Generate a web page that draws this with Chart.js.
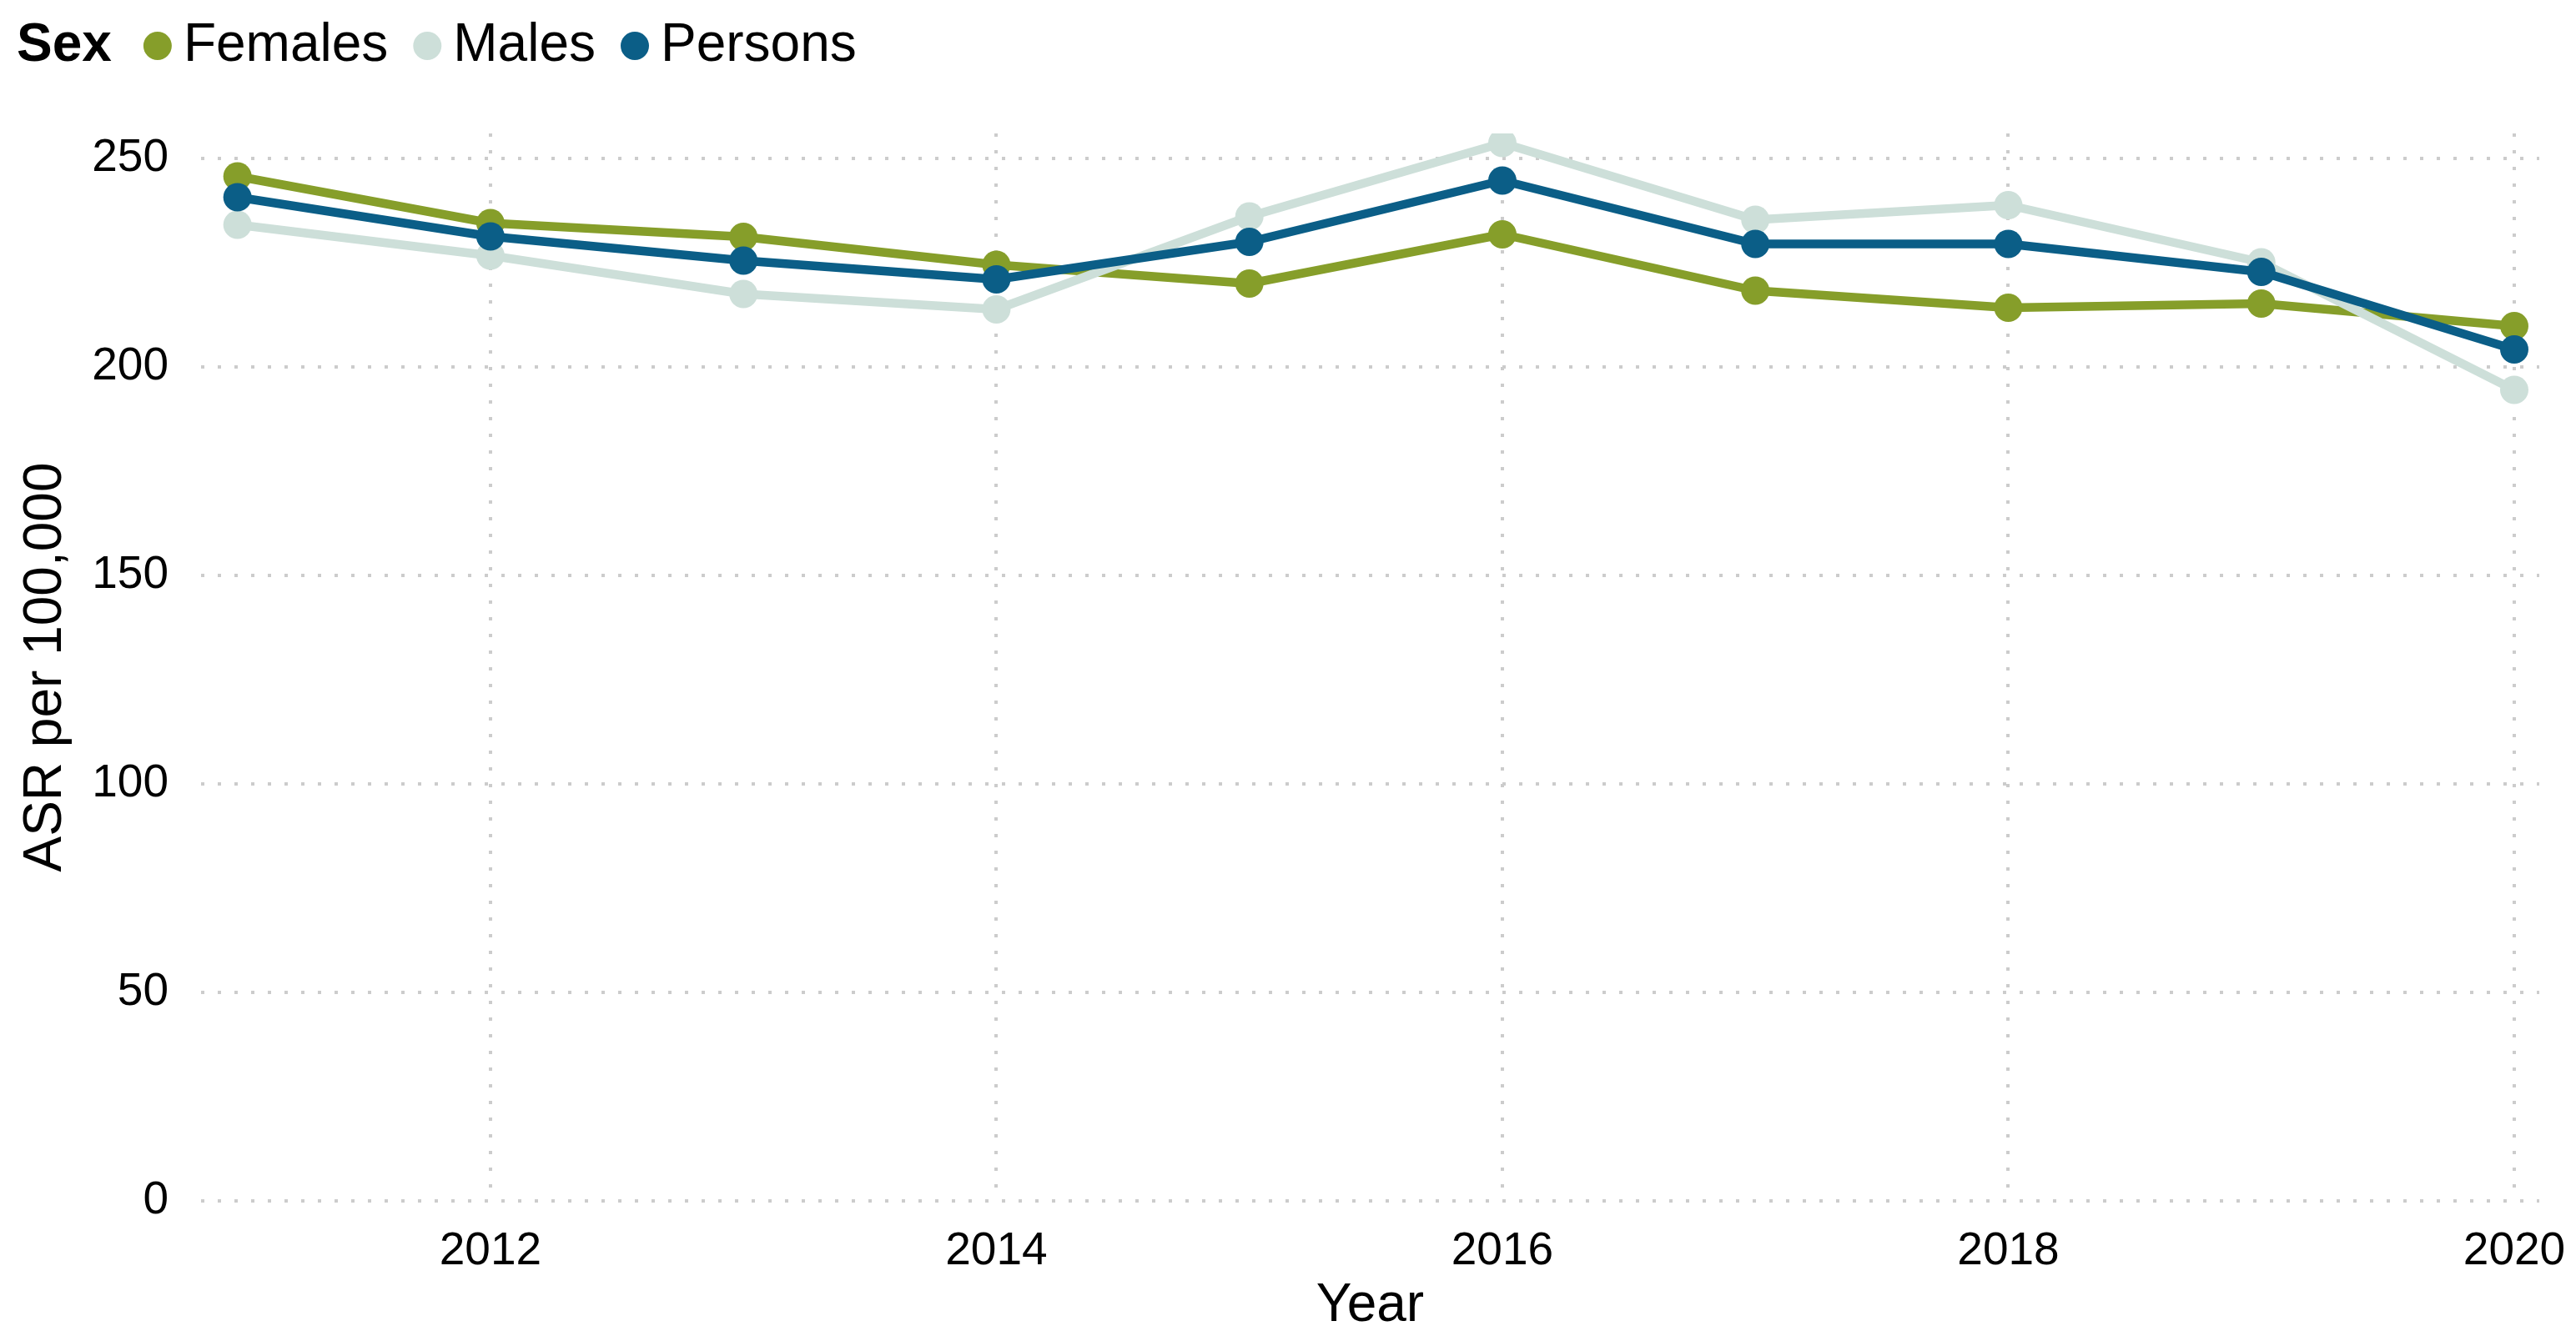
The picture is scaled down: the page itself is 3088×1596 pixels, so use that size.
<!DOCTYPE html>
<html>
<head>
<meta charset="utf-8">
<script src="https://cdn.jsdelivr.net/npm/chart.js@4/dist/chart.umd.min.js"></script>
<style>
  html, body { margin: 0; padding: 0; background: #ffffff; }
  canvas { display: block; }
</style>
</head>
<body>
<canvas id="mainChart" width="3088" height="1596"></canvas>
<script>
// ---- data ----
const years = [2011, 2012, 2013, 2014, 2015, 2016, 2017, 2018, 2019, 2020];
const females = [245.7, 234.5, 231.2, 224.5, 220.0, 231.8, 218.3, 214.2, 215.2, 209.8];
const males = [234.1, 226.7, 217.5, 213.8, 236.1, 253.7, 235.3, 238.8, 225.1, 194.5];
const persons = [240.7, 231.3, 225.5, 221.0, 230.0, 244.7, 229.5, 229.5, 222.8, 204.2];
const xTicks = [2012, 2014, 2016, 2018, 2020];
const yTicks = [0, 50, 100, 150, 200, 250];
const legendTitle = 'Sex';

const FONT = '"Liberation Sans", Arial, Helvetica, sans-serif';
const GRID = '#cccccc';

function toPoints(values) {
  return years.map((yr, i) => ({ x: yr, y: values[i] }));
}

function lineSet(label, values, color, order) {
  return {
    label,
    data: toPoints(values),
    borderColor: color,
    backgroundColor: color,
    pointBackgroundColor: color,
    borderWidth: 10.5,
    pointRadius: 17,
    pointBorderWidth: 0,
    pointHoverRadius: 17,
    borderJoinStyle: 'round',
    borderCapStyle: 'round',
    tension: 0,
    order,
  };
}

// legend row: bold title, then a dot + label per series
const sexLegend = {
  id: 'sexLegend',
  afterDraw(chart) {
    const ctx = chart.ctx;
    const y = 55;
    const r = 17;
    let x = 20;
    ctx.save();
    ctx.textBaseline = 'middle';
    ctx.fillStyle = '#000000';
    ctx.font = 'bold 64px ' + FONT;
    ctx.fillText(legendTitle, x, y);
    x += ctx.measureText(legendTitle).width + 38;
    ctx.font = '64px ' + FONT;
    chart.data.datasets.forEach(ds => {
      ctx.beginPath();
      ctx.fillStyle = ds.borderColor;
      ctx.arc(x + r, y, r, 0, Math.PI * 2);
      ctx.fill();
      ctx.fillStyle = '#000000';
      const tx = x + 2 * r + 14;
      ctx.fillText(ds.label, tx, y);
      x = tx + ctx.measureText(ds.label).width + 30;
    });
    ctx.restore();
  }
};

function initChart() {
  const ctx = document.getElementById('mainChart').getContext('2d');
  new Chart(ctx, {
    type: 'line',
    data: {
      datasets: [
        lineSet('Females', females, '#869e2a', 3),
        lineSet('Males', males, '#cddfd9', 2),
        lineSet('Persons', persons, '#0b5e87', 1),
      ]
    },
    options: {
      responsive: false,
      animation: false,
      layout: { padding: { top: 160, right: 44, bottom: 0, left: 0 } },
      plugins: {
        legend: { display: false },
        tooltip: { enabled: false },
      },
      scales: {
        x: {
          type: 'linear',
          min: 2010.856,
          max: 2020.099,
          afterBuildTicks: axis => { axis.ticks = xTicks.map(v => ({ value: v })); },
          afterFit: axis => {
            axis.height = 156;
            axis.paddingLeft = 0;
            axis.paddingRight = 0;
          },
          ticks: {
            color: '#000000',
            font: { family: FONT, size: 55 },
            padding: 28,
            maxRotation: 0,
            callback: v => String(v),
          },
          grid: { color: GRID, lineWidth: 4, drawTicks: false },
          border: { display: false, dash: [4, 16] },
          title: {
            display: true,
            text: 'Year',
            color: '#000000',
            font: { family: FONT, size: 64 },
            padding: { top: 0, bottom: -9 },
          },
        },
        y: {
          min: 0,
          max: 256,
          afterBuildTicks: axis => { axis.ticks = yTicks.map(v => ({ value: v })); },
          afterFit: axis => { axis.width = 241; },
          ticks: {
            color: '#000000',
            font: { family: FONT, size: 55 },
            padding: 39,
          },
          grid: { color: GRID, lineWidth: 4, drawTicks: false },
          border: { display: false, dash: [4, 16] },
          title: {
            display: true,
            text: 'ASR per 100,000',
            color: '#000000',
            font: { family: FONT, size: 64 },
            padding: { top: 17, bottom: 0 },
          },
        }
      }
    },
    plugins: [sexLegend]
  });
}

initChart();
</script>
</body>
</html>
